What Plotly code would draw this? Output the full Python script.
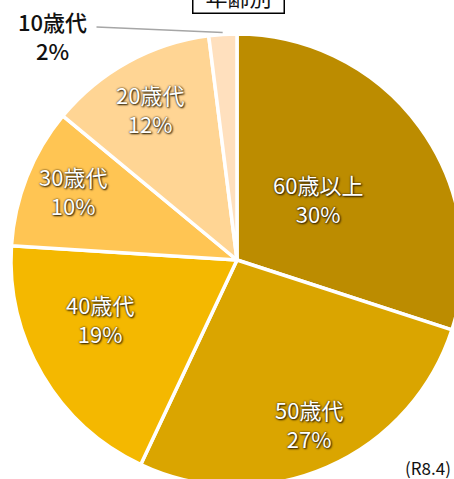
import math
import plotly.graph_objects as go

# ---- data ----
labels = ["60歳以上", "50歳代", "40歳代", "30歳代", "20歳代", "10歳代"]
values = [30, 27, 19, 10, 12, 2]
colors = ["#BC8C00", "#DAA500", "#F4B800", "#FFC553", "#FFD594", "#FFE0BE"]
title_text = "年齢別"
note_text = "(R8.4)"

# ---- label placement style (radial fraction, angular nudge in degrees) ----
label_rfrac = [0.45, 0.79, 0.66, 0.79, 0.775]
label_dang = [-1.4, -0.5, 7.6, 1.4, -1.0]

W, H = 480, 500
cx, cy, R = 237, 260, 226  # pixel centre/radius of the pie
FONT = "Noto Sans CJK JP"

fig = go.Figure(go.Pie(
    labels=labels,
    values=values,
    textinfo="none",
    sort=False,
    direction="clockwise",
    rotation=0,
    marker=dict(colors=colors, line=dict(color="white", width=3.5)),
    domain=dict(x=[(cx - R) / W, (cx + R) / W], y=[1 - (cy + R) / H, 1 - (cy - R) / H]),
    showlegend=False,
    hoverinfo="label+percent",
))

tot = sum(values)
cum = 0.0
mids = []
for v in values:
    mids.append((cum + v / 2) / tot * 360)
    cum += v

def to_paper(px, py):
    return px / W, 1 - py / H

# inside labels
for i in range(len(values) - 1):
    a = math.radians(mids[i] + label_dang[i])
    r = R * label_rfrac[i]
    x, y = to_paper(cx + r * math.sin(a), cy - r * math.cos(a))
    fig.add_annotation(
        x=x, y=y, xref="paper", yref="paper", showarrow=False,
        xanchor="center", yanchor="middle",
        text=f"{labels[i]}<br>{values[i]}%",
        font=dict(family=FONT, size=22, color="white",
                  shadow="0px 0px 2px #2a1c00, 1px 1px 2px #2a1c00"),
    )

# small slice: leader line + outside label
a = math.radians(mids[-1])
px = cx + (R + 2) * math.sin(a)
py = cy - (R + 2) * math.cos(a)
x, y = to_paper(px, py)
fig.add_annotation(
    x=x, y=y, xref="paper", yref="paper", text=" ",
    showarrow=True, arrowhead=0, arrowwidth=1.5, arrowcolor="#A6A6A6",
    ax=95 - px, ay=27 - py, font=dict(size=1),
)
lx, ly = to_paper(52, 35)
fig.add_annotation(
    x=lx, y=ly, xref="paper", yref="paper", showarrow=False,
    xanchor="center", yanchor="middle",
    text=f"{labels[-1]}<br>{values[-1]}%",
    font=dict(family=FONT, size=22, color="#111111", weight=500),
)

# title box (partly cut off at top)
tx, ty = to_paper(238, 14)
fig.add_annotation(
    x=tx, y=ty, xref="paper", yref="paper",
    xanchor="center", yanchor="bottom",
    text=title_text, showarrow=False,
    width=88, height=34, valign="bottom",
    bordercolor="black", borderwidth=1.5, borderpad=1, bgcolor="white",
    font=dict(family=FONT, size=22, color="#111111"),
)

nx, ny = to_paper(453, 467)
fig.add_annotation(
    x=nx, y=ny, xref="paper", yref="paper",
    xanchor="right", yanchor="middle",
    text=note_text, showarrow=False,
    font=dict(family=FONT, size=17, color="#111111"),
)

fig.update_layout(
    width=W, height=H,
    margin=dict(l=0, r=0, t=0, b=0),
    paper_bgcolor="white", plot_bgcolor="white",
)

fig.write_html(
    "out.html",
    post_script="document.body.style.margin='0';document.body.style.overflow='hidden';"
                "document.documentElement.style.overflow='hidden';",
)
